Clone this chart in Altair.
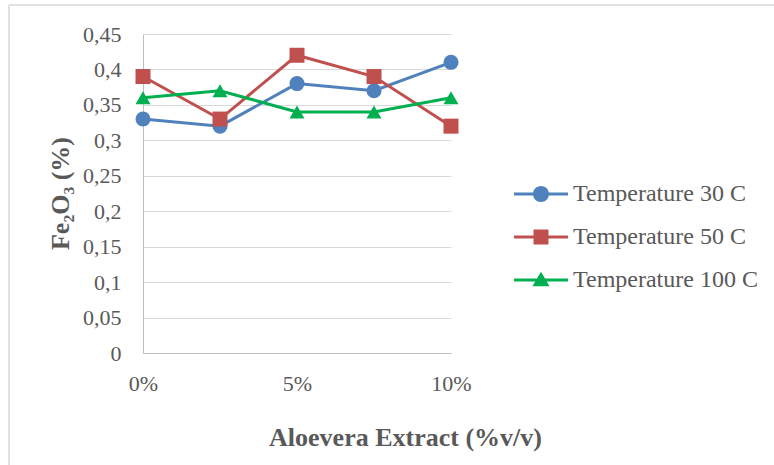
import altair as alt
import pandas as pd

x_vals = [0, 2.5, 5, 7.5, 10]
series_names = ["Temperature 30 C", "Temperature 50 C", "Temperature 100 C"]
t30 = [0.33, 0.32, 0.38, 0.37, 0.41]
t50 = [0.39, 0.33, 0.42, 0.39, 0.32]
t100 = [0.36, 0.37, 0.34, 0.34, 0.36]
y_ticks = [0, 0.05, 0.1, 0.15, 0.2, 0.25, 0.3, 0.35, 0.4, 0.45]
x_ticks = [0, 5, 10]
colors = ["#4F81BD", "#C0504D", "#00B050"]
shapes = ["circle", "square", "triangle-up"]

# legend glyphs: a short line segment with the marker on it (filled outlines, clockwise)
LINE = "M-2.45,-0.136L2.45,-0.136L2.45,0.136L-2.45,0.136Z"
legend_paths = [
    LINE + "M0.73,0A0.73,0.73,0,1,1,-0.73,0A0.73,0.73,0,1,1,0.73,0Z",
    LINE + "M-0.68,-0.68L0.68,-0.68L0.68,0.68L-0.68,0.68Z",
    LINE + "M0,-0.75L0.78,0.57L-0.78,0.57Z",
]

rows = []
for name, col, vals in zip(series_names, colors, [t30, t50, t100]):
    for xv, yv in zip(x_vals, vals):
        rows.append({"x": xv, "y": yv, "series": name, "col": col})
df = pd.DataFrame(rows)

FONT = "Liberation Serif"
TXT = "#595959"

xenc = alt.X("x:Q", scale=alt.Scale(domain=[0, 10], nice=False),
             axis=alt.Axis(values=x_ticks, labelExpr="datum.value + '%'",
                           title="Aloevera Extract (%v/v)", grid=False,
                           ticks=False, tickSize=0, labelPadding=37,
                           labelBaseline="alphabetic", labelFlush=False,
                           labelOverlap=False,
                           titleX=262, titleY=92, titleBaseline="alphabetic",
                           titleAlign="center"))
yenc = alt.Y("y:Q", scale=alt.Scale(domain=[0, 0.45], nice=False),
             axis=alt.Axis(values=y_ticks, tickCount=20,
                           labelExpr="replace(format(datum.value, '.2~f'), '.', ',')",
                           title="Fe₂O₃ (%)", ticks=False, tickSize=0,
                           labelPadding=22, gridColor="#D9D9D9",
                           labelOverlap=False, labelFlush=False,
                           titleX=-83, titleY=159, titleBaseline="middle",
                           titleAlign="center", titleAngle=270))

base = alt.Chart(df)
lines = base.mark_line(strokeWidth=3).encode(
    x=xenc, y=yenc,
    stroke=alt.Stroke("col:N", scale=None),
    detail="series:N",
)

layers = [lines]
for name, shp in zip(series_names, shapes):
    layers.append(
        base.transform_filter(alt.datum.series == name)
        .mark_point(filled=True, size=225, opacity=1, shape=shp, strokeWidth=0)
        .encode(x="x:Q", y="y:Q", fill=alt.Fill("col:N", scale=None))
    )

legend_layer = base.mark_point(filled=True, opacity=0).encode(
    x="x:Q", y="y:Q",
    color=alt.Color("series:N", scale=alt.Scale(domain=series_names, range=colors),
                    legend=alt.Legend(title=None)),
    shape=alt.Shape("series:N", scale=alt.Scale(domain=series_names, range=legend_paths),
                    legend=alt.Legend(title=None)),
)
layers.append(legend_layer)

frame_df = pd.DataFrame({"a": [0]})
frame_left = alt.Chart(frame_df).mark_rule(color="#D9D9D9", strokeWidth=1.5).encode(
    x=alt.value(-134), y=alt.value(-29), y2=alt.value(450))
frame_top = alt.Chart(frame_df).mark_rule(color="#D9D9D9", strokeWidth=1.5).encode(
    x=alt.value(-134), x2=alt.value(650), y=alt.value(-29))

chart = alt.layer(frame_left, frame_top, *layers).properties(
    width=308, height=319,
    autosize=alt.AutoSizeParams(type="none"),
    padding={"left": 143, "top": 34, "right": 323, "bottom": 112},
    background="white",
).configure_view(stroke=None).configure_axis(
    labelFont=FONT, titleFont=FONT, labelColor=TXT, titleColor=TXT,
    labelFontSize=22, titleFontSize=26, titleFontWeight="bold",
    domainColor="#BFBFBF", domainWidth=1,
).configure_legend(
    orient="none", legendX=386, legendY=148, padding=0,
    labelFont=FONT, labelFontSize=24, labelColor=TXT, labelOffset=20,
    labelLimit=0, symbolSize=484, symbolStrokeWidth=0, symbolOpacity=1,
    symbolFillColor="#000000", rowPadding=19,
)

chart.save("out.html", embed_options={"renderer": "svg", "actions": False})
